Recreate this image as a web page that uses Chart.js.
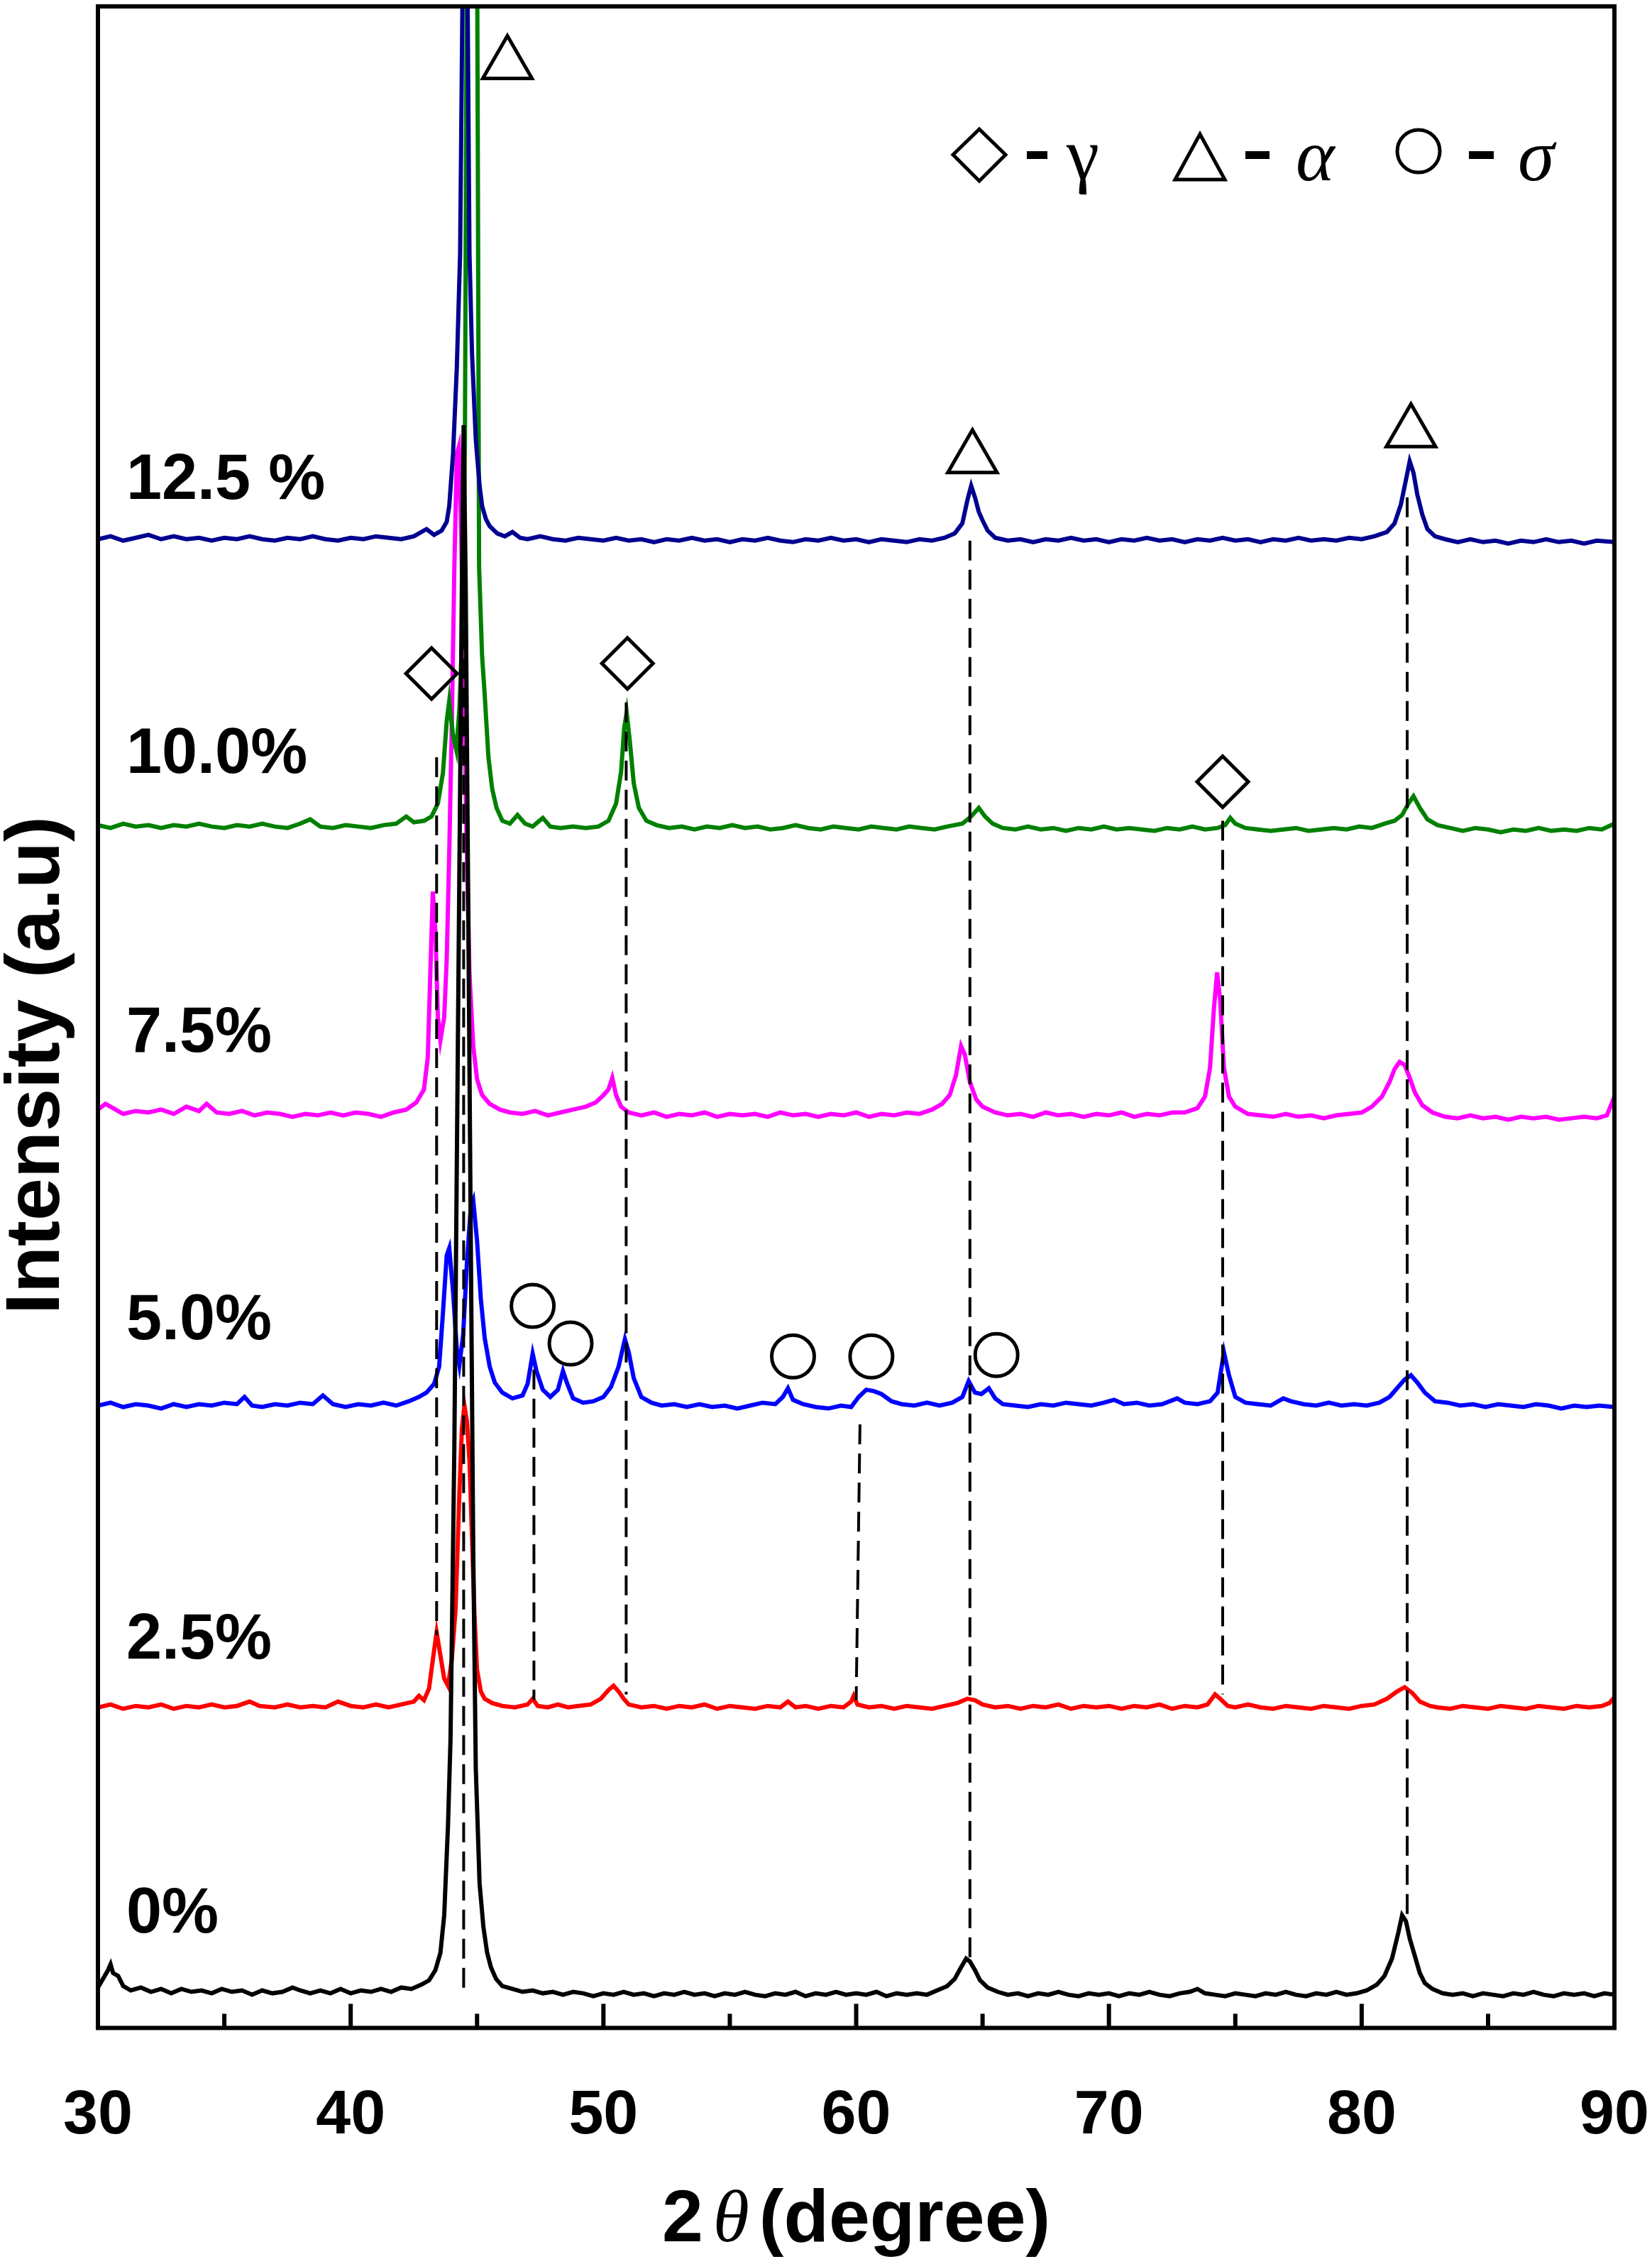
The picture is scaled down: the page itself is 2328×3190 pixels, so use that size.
<!DOCTYPE html>
<html>
<head>
<meta charset="utf-8">
<script src="https://cdn.jsdelivr.net/npm/chart.js@4/dist/chart.umd.min.js"></script>
<style>
  body { margin: 0; background: #fff; }
  canvas { display: block; }
</style>
</head>
<body>
<canvas id="xrd" width="2328" height="3190"></canvas>
<script>
// Datos: [2theta, intensidad (u.a.)]
const serie0 = [[30.0,28],[30.2,34],[30.4,40],[30.5,44],[30.6,38],[30.8,36],[31.0,29],[31.3,26],[31.7,28],[32.1,25],[32.5,27],[32.9,24],[33.3,27],[33.7,25],[34.1,26],[34.5,24],[34.9,27],[35.3,25],[35.7,26],[36.1,23],[36.5,26],[36.9,24],[37.3,25],[37.7,28],[38.0,26],[38.4,24],[38.8,26],[39.2,24],[39.6,27],[40.0,24],[40.4,26],[40.8,25],[41.2,27],[41.6,25],[42.0,28],[42.4,27],[42.8,30],[43.1,33],[43.35,40],[43.55,52],[43.7,78],[43.85,140],[43.95,200],[44.1,400],[44.2,600],[44.3,800],[44.4,1000],[44.47,1110],[44.55,1000],[44.65,780],[44.75,550],[44.85,330],[44.95,180],[45.1,100],[45.25,70],[45.4,52],[45.55,42],[45.75,34],[46.0,29],[46.4,27],[46.8,25],[47.2,26],[47.6,24],[48.0,25],[48.4,23],[48.8,25],[49.2,24],[49.6,22],[50.0,24],[50.4,23],[50.8,25],[51.2,23],[51.6,24],[52.0,22],[52.4,24],[52.8,23],[53.2,25],[53.6,23],[54.0,24],[54.4,22],[54.8,24],[55.2,23],[55.6,25],[56.0,23],[56.4,22],[56.8,24],[57.2,23],[57.6,25],[58.0,22],[58.4,24],[58.8,23],[59.2,25],[59.6,23],[60.0,24],[60.4,23],[60.8,25],[61.2,22],[61.6,24],[62.0,23],[62.4,24],[62.8,23],[63.2,26],[63.6,29],[63.9,34],[64.15,42],[64.35,48],[64.5,46],[64.7,40],[64.9,33],[65.2,28],[65.6,25],[66.0,23],[66.4,24],[66.8,22],[67.2,24],[67.6,23],[68.0,25],[68.4,23],[68.8,22],[69.2,24],[69.6,23],[70.0,24],[70.4,22],[70.8,24],[71.2,23],[71.6,25],[72.0,23],[72.4,22],[72.8,24],[73.2,25],[73.5,27],[73.8,24],[74.2,23],[74.6,22],[75.0,24],[75.4,23],[75.8,22],[76.2,24],[76.6,23],[77.0,25],[77.4,23],[77.8,22],[78.2,24],[78.6,23],[79.0,25],[79.4,23],[79.8,24],[80.2,26],[80.6,30],[80.9,36],[81.2,48],[81.45,66],[81.6,78],[81.75,74],[81.9,62],[82.1,50],[82.3,38],[82.5,31],[82.8,27],[83.2,24],[83.6,23],[84.0,24],[84.4,22],[84.8,24],[85.2,23],[85.6,22],[86.0,24],[86.4,23],[86.8,25],[87.2,23],[87.6,22],[88.0,24],[88.4,23],[88.8,24],[89.2,22],[89.6,24],[90.0,23]];

const serie25 = [[30.0,222],[30.5,224],[31.0,221],[31.5,223],[32.0,222],[32.5,224],[33.0,221],[33.5,223],[34.0,222],[34.5,224],[35.0,222],[35.5,223],[36.0,226],[36.4,223],[37.0,222],[37.5,224],[38.0,222],[38.5,223],[39.0,222],[39.5,226],[40.0,223],[40.5,222],[41.0,224],[41.5,222],[42.0,224],[42.5,226],[42.7,230],[42.9,227],[43.1,235],[43.25,255],[43.4,274],[43.55,258],[43.7,242],[43.85,237],[44.0,255],[44.15,290],[44.3,370],[44.4,415],[44.5,431],[44.6,420],[44.7,393],[44.8,340],[44.9,285],[45.0,248],[45.15,233],[45.3,228],[45.6,225],[46.0,223],[46.5,222],[47.0,224],[47.2,228],[47.4,223],[47.8,222],[48.2,224],[48.6,222],[49.0,223],[49.5,224],[49.9,228],[50.2,234],[50.4,237],[50.6,233],[50.8,228],[51.0,224],[51.5,222],[52.0,223],[52.5,221],[53.0,223],[53.5,222],[54.0,224],[54.5,221],[55.0,223],[55.5,222],[56.0,221],[56.5,223],[57.0,222],[57.3,226],[57.6,222],[58.0,223],[58.5,221],[59.0,223],[59.5,222],[59.8,226],[59.9,230],[60.05,224],[60.5,222],[61.0,223],[61.5,221],[62.0,223],[62.5,222],[63.0,221],[63.5,223],[64.0,225],[64.4,228],[64.7,227],[65.0,224],[65.5,222],[66.0,223],[66.5,221],[67.0,223],[67.5,222],[68.0,224],[68.5,221],[69.0,223],[69.5,222],[70.0,223],[70.5,221],[71.0,223],[71.5,222],[72.0,224],[72.5,221],[73.0,223],[73.5,222],[73.9,224],[74.2,231],[74.4,228],[74.7,223],[75.0,222],[75.5,224],[76.0,222],[76.5,221],[77.0,223],[77.5,222],[78.0,221],[78.5,223],[79.0,222],[79.5,221],[80.0,223],[80.5,224],[81.0,228],[81.4,233],[81.7,236],[82.0,232],[82.3,226],[82.7,223],[83.0,222],[83.5,221],[84.0,223],[84.5,222],[85.0,221],[85.5,223],[86.0,222],[86.5,221],[87.0,223],[87.5,222],[88.0,221],[88.5,223],[89.0,222],[89.5,223],[89.8,225],[90.0,229]];

const serie50 = [[30.0,431],[30.5,433],[31.0,430],[31.5,432],[32.0,431],[32.5,429],[33.0,432],[33.5,430],[34.0,432],[34.5,431],[35.0,433],[35.5,432],[35.8,437],[36.1,431],[36.5,430],[37.0,432],[37.5,431],[38.0,433],[38.5,432],[38.9,438],[39.3,432],[39.8,430],[40.3,432],[40.8,431],[41.3,433],[41.8,431],[42.3,434],[42.7,437],[43.0,440],[43.3,446],[43.5,458],[43.65,495],[43.8,535],[43.9,540],[44.05,510],[44.2,470],[44.3,459],[44.45,480],[44.6,530],[44.75,568],[44.85,573],[45.0,545],[45.15,505],[45.3,478],[45.5,458],[45.7,447],[46.0,440],[46.4,436],[46.8,438],[47.0,446],[47.2,467],[47.35,455],[47.6,442],[47.9,437],[48.2,442],[48.4,455],[48.55,447],[48.8,436],[49.2,433],[49.6,434],[50.0,437],[50.3,444],[50.6,458],[50.85,477],[51.0,468],[51.2,450],[51.5,437],[51.9,433],[52.3,431],[52.8,432],[53.3,430],[53.8,432],[54.3,430],[54.8,431],[55.3,429],[55.8,431],[56.3,433],[56.8,432],[57.1,437],[57.3,443],[57.5,435],[57.9,432],[58.4,430],[58.9,429],[59.4,431],[59.8,430],[60.1,437],[60.4,442],[60.7,441],[61.0,439],[61.4,434],[61.8,432],[62.3,431],[62.8,433],[63.3,431],[63.8,433],[64.2,437],[64.45,448],[64.7,440],[64.95,439],[65.25,443],[65.5,436],[65.8,432],[66.3,431],[66.8,430],[67.3,432],[67.8,431],[68.3,433],[68.8,432],[69.3,431],[69.8,433],[70.2,435],[70.6,432],[71.1,433],[71.6,431],[72.1,432],[72.7,436],[73.0,433],[73.5,432],[74.0,434],[74.3,440],[74.55,468],[74.75,452],[75.0,437],[75.4,433],[75.9,432],[76.4,431],[76.9,436],[77.2,434],[77.7,432],[78.2,431],[78.7,433],[79.2,431],[79.7,432],[80.2,431],[80.7,433],[81.1,437],[81.4,443],[81.7,449],[81.95,452],[82.2,447],[82.5,440],[82.9,434],[83.4,433],[83.9,431],[84.4,432],[84.9,430],[85.4,432],[85.9,431],[86.4,430],[86.9,432],[87.4,431],[87.9,429],[88.4,431],[88.9,430],[89.4,431],[90.0,430]];

const serie75 = [[30.0,636],[30.3,640],[30.6,637],[31.0,633],[31.5,635],[32.0,634],[32.5,636],[33.0,633],[33.5,638],[34.0,635],[34.3,640],[34.7,634],[35.2,633],[35.7,635],[36.2,632],[36.7,634],[37.2,633],[37.7,631],[38.2,633],[38.7,632],[39.2,634],[39.7,632],[40.2,634],[40.7,633],[41.2,631],[41.7,634],[42.2,636],[42.6,641],[42.9,650],[43.05,672],[43.15,730],[43.25,787],[43.35,760],[43.45,700],[43.55,684],[43.7,700],[43.8,740],[43.9,814],[44.0,902],[44.1,1010],[44.2,1090],[44.28,1095],[44.38,1030],[44.48,930],[44.58,830],[44.7,730],[44.85,680],[45.0,657],[45.2,646],[45.5,640],[45.9,636],[46.3,634],[46.8,633],[47.3,635],[47.8,632],[48.3,634],[48.8,636],[49.3,638],[49.7,641],[50.0,646],[50.2,650],[50.35,658],[50.5,646],[50.7,638],[51.0,634],[51.5,632],[52.0,634],[52.5,631],[53.0,633],[53.5,632],[54.0,634],[54.5,631],[55.0,633],[55.5,632],[56.0,633],[56.5,631],[57.0,634],[57.5,632],[58.0,633],[58.5,631],[59.0,633],[59.5,632],[60.0,634],[60.5,631],[61.0,633],[61.5,632],[62.0,634],[62.5,633],[63.0,636],[63.4,640],[63.7,646],[63.95,660],[64.15,680],[64.3,674],[64.5,655],[64.75,643],[65.0,638],[65.5,634],[66.0,632],[66.5,633],[67.0,631],[67.5,634],[68.0,632],[68.5,633],[69.0,631],[69.5,633],[70.0,632],[70.5,634],[71.0,631],[71.5,633],[72.0,632],[72.5,634],[73.0,634],[73.5,637],[73.8,645],[74.0,665],[74.15,705],[74.28,731],[74.4,712],[74.55,665],[74.75,645],[75.0,638],[75.5,633],[76.0,632],[76.5,631],[77.0,633],[77.5,631],[78.0,632],[78.5,630],[79.0,632],[79.5,633],[80.0,634],[80.4,638],[80.8,645],[81.1,655],[81.3,664],[81.5,669],[81.7,667],[81.9,658],[82.1,648],[82.4,639],[82.8,634],[83.3,631],[83.8,630],[84.3,632],[84.8,630],[85.3,631],[85.8,629],[86.3,631],[86.8,630],[87.3,631],[87.8,629],[88.3,630],[88.8,631],[89.3,630],[89.7,632],[90.0,645]];

const serie100 = [[30.0,833],[30.5,831],[31.0,834],[31.5,832],[32.0,833],[32.5,831],[33.0,833],[33.5,832],[34.0,834],[34.5,832],[35.0,831],[35.5,833],[36.0,832],[36.5,834],[37.0,832],[37.5,831],[38.0,834],[38.4,837],[38.8,832],[39.3,831],[39.8,833],[40.3,832],[40.8,831],[41.3,833],[41.8,834],[42.2,839],[42.5,835],[42.9,836],[43.2,839],[43.45,848],[43.65,869],[43.8,905],[43.9,919],[44.05,895],[44.18,885],[44.3,913],[44.45,980],[44.52,1100],[44.6,1450],[44.72,1750],[44.85,1800],[44.97,1600],[45.03,1300],[45.08,1012],[45.2,950],[45.3,924],[45.45,880],[45.6,858],[45.77,845],[46.0,836],[46.3,834],[46.6,840],[46.9,834],[47.2,832],[47.6,838],[47.9,832],[48.3,831],[48.8,832],[49.3,831],[49.8,832],[50.2,836],[50.5,848],[50.7,870],[50.82,900],[50.92,911],[51.05,890],[51.2,862],[51.4,845],[51.7,836],[52.1,833],[52.6,831],[53.1,832],[53.6,830],[54.1,832],[54.6,831],[55.1,833],[55.6,831],[56.1,832],[56.6,830],[57.1,831],[57.6,833],[58.1,831],[58.6,830],[59.1,832],[59.6,831],[60.1,830],[60.6,832],[61.1,831],[61.6,830],[62.1,832],[62.6,831],[63.1,830],[63.6,832],[64.2,834],[64.55,839],[64.85,845],[65.1,839],[65.4,834],[65.8,831],[66.3,830],[66.8,832],[67.3,830],[67.8,831],[68.3,829],[68.8,831],[69.3,830],[69.8,832],[70.3,830],[70.8,831],[71.3,830],[71.8,829],[72.3,831],[72.8,830],[73.3,832],[73.8,830],[74.3,831],[74.6,833],[74.8,838],[75.0,834],[75.4,831],[75.9,830],[76.4,829],[76.9,830],[77.4,831],[77.9,829],[78.4,830],[78.9,831],[79.4,830],[79.9,832],[80.4,831],[80.9,834],[81.3,836],[81.6,840],[81.85,848],[82.05,853],[82.3,845],[82.6,837],[83.0,833],[83.5,831],[84.0,829],[84.5,831],[85.0,830],[85.5,828],[86.0,830],[86.5,829],[87.0,831],[87.5,829],[88.0,830],[88.5,829],[89.0,831],[89.5,830],[90.0,834]];

const serie125 = [[30.0,1031],[30.5,1033],[31.0,1030],[31.5,1032],[32.0,1034],[32.5,1031],[33.0,1033],[33.5,1031],[34.0,1032],[34.5,1030],[35.0,1032],[35.5,1031],[36.0,1033],[36.5,1031],[37.0,1030],[37.5,1032],[38.0,1031],[38.5,1033],[39.0,1031],[39.5,1030],[40.0,1032],[40.5,1031],[41.0,1033],[41.5,1032],[42.0,1031],[42.5,1033],[43.0,1038],[43.3,1034],[43.6,1037],[43.8,1043],[43.9,1054],[44.05,1090],[44.2,1150],[44.33,1229],[44.42,1400],[44.52,1600],[44.62,1420],[44.7,1229],[44.8,1160],[44.95,1100],[45.1,1068],[45.2,1054],[45.35,1045],[45.5,1040],[45.8,1035],[46.1,1033],[46.4,1036],[46.7,1032],[47.0,1031],[47.5,1033],[48.0,1031],[48.5,1030],[49.0,1032],[49.5,1031],[50.0,1030],[50.5,1032],[51.0,1030],[51.5,1031],[52.0,1029],[52.5,1031],[53.0,1030],[53.5,1032],[54.0,1030],[54.5,1031],[55.0,1029],[55.5,1031],[56.0,1030],[56.5,1032],[57.0,1030],[57.5,1029],[58.0,1031],[58.5,1030],[59.0,1032],[59.5,1030],[60.0,1031],[60.5,1029],[61.0,1031],[61.5,1030],[62.0,1029],[62.5,1031],[63.0,1030],[63.5,1032],[63.9,1035],[64.2,1042],[64.4,1058],[64.55,1068],[64.7,1060],[64.85,1050],[65.0,1044],[65.2,1037],[65.5,1032],[66.0,1030],[66.5,1031],[67.0,1029],[67.5,1031],[68.0,1030],[68.5,1032],[69.0,1030],[69.5,1031],[70.0,1029],[70.5,1031],[71.0,1030],[71.5,1032],[72.0,1030],[72.5,1031],[73.0,1029],[73.5,1031],[74.0,1030],[74.5,1032],[75.0,1030],[75.5,1031],[76.0,1029],[76.5,1031],[77.0,1030],[77.5,1032],[78.0,1030],[78.5,1031],[79.0,1030],[79.5,1032],[80.0,1031],[80.5,1033],[81.0,1036],[81.3,1042],[81.55,1055],[81.75,1072],[81.9,1085],[82.05,1077],[82.2,1062],[82.4,1048],[82.6,1038],[82.9,1033],[83.3,1031],[83.8,1029],[84.3,1031],[84.8,1029],[85.3,1030],[85.8,1028],[86.3,1030],[86.8,1029],[87.3,1031],[87.8,1029],[88.3,1030],[88.8,1028],[89.3,1030],[90.0,1029]];

// Etiquetas de cada muestra y su altura (u.a.)
const etiquetas = ['12.5 %', '10.0%', '7.5%', '5.0%', '2.5%', '0%'];
const etiquetasY = [1059, 869, 676, 477, 256, 66];

// Marcadores de fase
const alfaX = [46.2, 64.6, 81.95];
const alfaY = [1360, 1087, 1105];
const gammaX = [43.2, 50.95, 74.5];
const gammaY = [938, 945, 863];
const sigmaX = [47.2, 48.7, 57.5, 60.6, 65.55];
const sigmaY = [500, 474, 465, 465, 466];

// Lineas punteadas de referencia (arriba / abajo)
const refArribaX = [43.4, 44.47, 47.25, 50.9, 60.15, 64.5, 74.5, 81.8];
const refArribaY = [880, 1029, 456, 918, 418, 1030, 836, 1060];
const refAbajoX = [43.4, 44.47, 47.25, 50.9, 60.0, 64.5, 74.5, 81.8];
const refAbajoY = [272, 22, 227, 231, 227, 47, 231, 77];

const FUENTE = "'Liberation Sans', Arial, sans-serif";
const SERIF = "'Liberation Serif', 'Times New Roman', serif";

function aPuntos(arr) {
  return arr.map(p => ({ x: p[0], y: p[1] }));
}

function unir(xs, ys) {
  return xs.map((x, i) => ({ x: x, y: ys[i] }));
}

function curva(datos, color) {
  return {
    data: aPuntos(datos),
    borderColor: color,
    borderWidth: 6,
    pointRadius: 0,
    tension: 0,
    fill: false
  };
}

function marcador(datos, estilo, radio) {
  return {
    data: datos,
    showLine: false,
    pointStyle: estilo,
    pointRadius: radio,
    pointHoverRadius: radio,
    pointBorderWidth: 5,
    pointBorderColor: '#000',
    pointBackgroundColor: 'rgba(0,0,0,0)'
  };
}

const datasets = [];
datasets.push(marcador(unir(alfaX, alfaY), 'triangle', 40));
datasets.push(marcador(unir(gammaX, gammaY), 'rectRot', 36));
datasets.push(marcador(unir(sigmaX, sigmaY), 'circle', 30));

for (let i = 0; i < refArribaX.length; i++) {
  datasets.push({
    data: [{ x: refArribaX[i], y: refArribaY[i] }, { x: refAbajoX[i], y: refAbajoY[i] }],
    borderColor: '#000',
    borderWidth: 4,
    borderDash: [28, 13],
    pointRadius: 0,
    tension: 0
  });
}

datasets.push(curva(serie0, '#000000'));
datasets.push(curva(serie125, '#000090'));
datasets.push(curva(serie100, '#008000'));
datasets.push(curva(serie75, '#FF00FF'));
datasets.push(curva(serie50, '#0000FF'));
datasets.push(curva(serie25, '#FF0000'));

// Marco, marcas internas, titulos, etiquetas y leyenda
const decoracion = {
  id: 'decoracion',
  afterDraw(chart) {
    const ctx = chart.ctx;
    const area = chart.chartArea;
    const xs = chart.scales.x;
    const ys = chart.scales.y;
    ctx.save();

    // marcas hacia adentro en el eje inferior
    ctx.strokeStyle = '#000';
    ctx.lineWidth = 6;
    for (let v = 35; v <= 85; v += 5) {
      const px = xs.getPixelForValue(v);
      const largo = (v % 10 === 0) ? 34 : 20;
      ctx.beginPath();
      ctx.moveTo(px, area.bottom);
      ctx.lineTo(px, area.bottom - largo);
      ctx.stroke();
    }

    // marco
    ctx.lineWidth = 6;
    ctx.strokeRect(area.left, area.top, area.right - area.left, area.bottom - area.top);

    // etiquetas de las muestras
    ctx.fillStyle = '#000';
    ctx.font = 'bold 90px ' + FUENTE;
    ctx.textAlign = 'left';
    ctx.textBaseline = 'alphabetic';
    etiquetas.forEach((t, i) => {
      ctx.fillText(t, area.left + 40, ys.getPixelForValue(etiquetasY[i]));
    });

    // titulo eje x: 2θ(degree)
    const partes = [
      { t: '2', f: 'bold 104px ' + FUENTE },
      { t: 'θ', f: 'italic 104px ' + SERIF },
      { t: '(degree)', f: 'bold 104px ' + FUENTE }
    ];
    const gap = 14;
    let total = 0;
    partes.forEach(p => { ctx.font = p.f; p.w = ctx.measureText(p.t).width; total += p.w; });
    total += gap * 2;
    let cx = (area.left + area.right) / 2 - total / 2;
    partes.forEach(p => {
      ctx.font = p.f;
      ctx.fillText(p.t, cx, 3158);
      cx += p.w + gap;
    });

    // titulo eje y
    ctx.save();
    ctx.translate(83, 1501);
    ctx.rotate(-Math.PI / 2);
    ctx.textAlign = 'center';
    ctx.font = 'bold 108px ' + FUENTE;
    ctx.fillText('Intensity (a.u)', 0, 0);
    ctx.restore();

    // leyenda de fases
    ctx.lineWidth = 5;
    ctx.beginPath();
    ctx.moveTo(1343, 218); ctx.lineTo(1380, 182); ctx.lineTo(1417, 218); ctx.lineTo(1380, 255);
    ctx.closePath(); ctx.stroke();
    ctx.fillRect(1447, 213, 29, 11);
    ctx.font = '104px ' + SERIF;
    ctx.fillText('γ', 1503, 252);

    ctx.beginPath();
    ctx.moveTo(1691, 189); ctx.lineTo(1726, 253); ctx.lineTo(1656, 253);
    ctx.closePath(); ctx.stroke();
    ctx.fillRect(1755, 213, 34, 11);
    ctx.font = 'italic 104px ' + SERIF;
    ctx.fillText('α', 1826, 254);

    ctx.beginPath();
    ctx.ellipse(1999, 213, 30, 30, 0, 0, Math.PI * 2);
    ctx.stroke();
    ctx.fillRect(2070, 213, 35, 11);
    ctx.fillText('σ', 2139, 254);

    ctx.restore();
  }
};

new Chart(document.getElementById('xrd'), {
  type: 'line',
  data: { datasets: datasets },
  options: {
    responsive: false,
    devicePixelRatio: 1,
    animation: false,
    layout: { autoPadding: false, padding: { left: 138, right: 50, top: 9, bottom: 151 } },
    plugins: {
      legend: { display: false },
      tooltip: { enabled: false }
    },
    scales: {
      x: {
        type: 'linear',
        min: 30,
        max: 90,
        grid: { display: false, drawTicks: true, tickLength: 68 },
        border: { display: false },
        ticks: {
          stepSize: 10,
          autoSkip: false,
          maxRotation: 0,
          padding: 4,
          color: '#000',
          font: { family: FUENTE, size: 88, weight: 'bold' }
        }
      },
      y: {
        display: false,
        min: 0,
        max: 1400
      }
    }
  },
  plugins: [decoracion]
});
</script>
</body>
</html>
